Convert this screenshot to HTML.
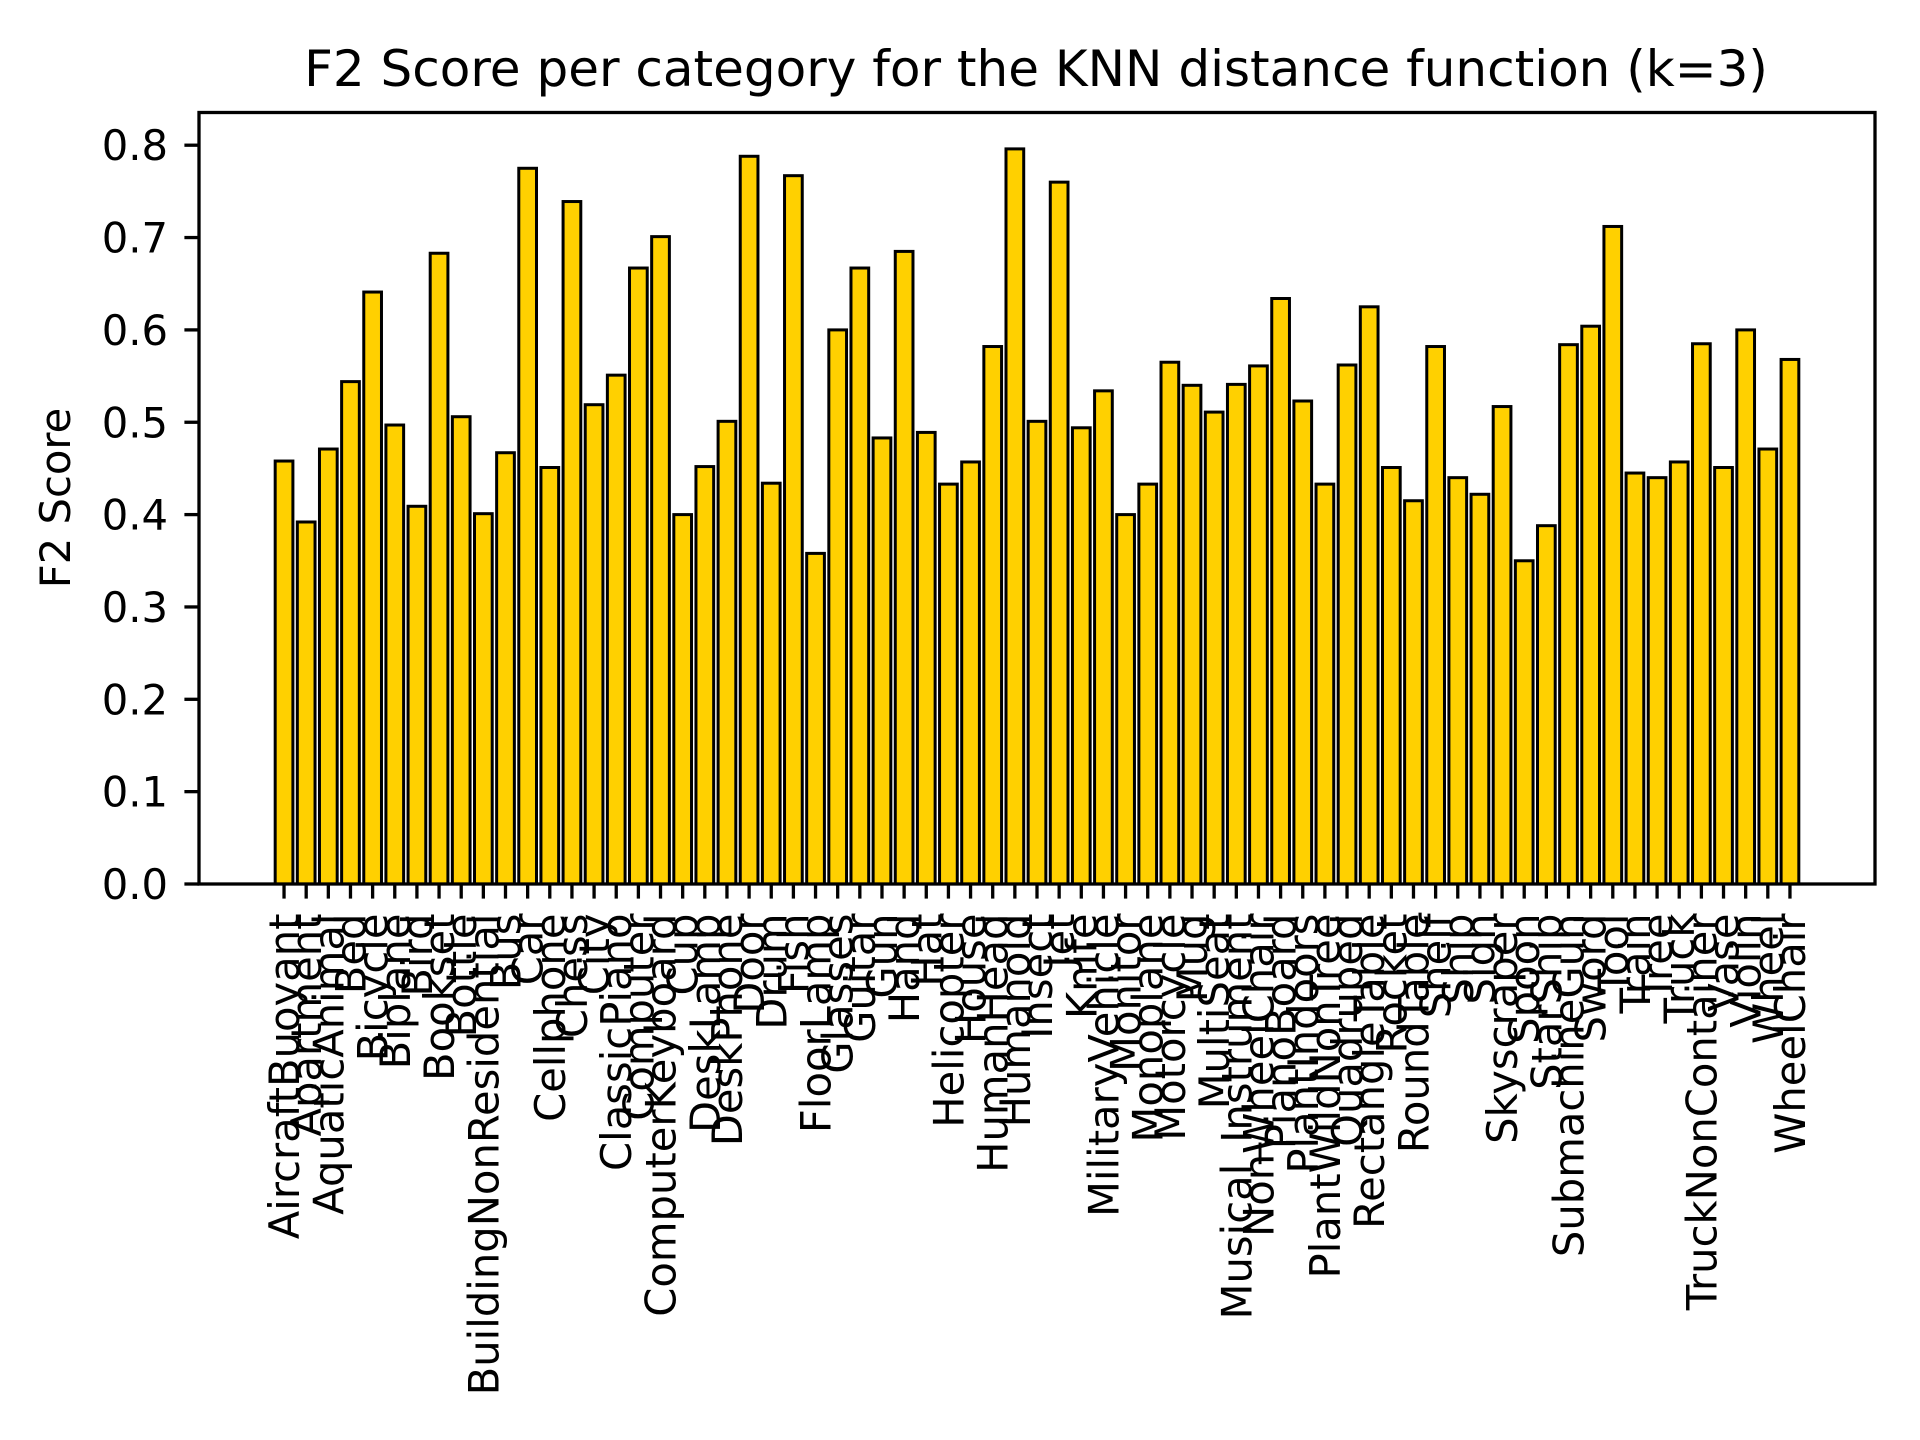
<!DOCTYPE html>
<html><head><meta charset="utf-8">
<style>
html,body{margin:0;padding:0;background:#fff;}
svg{display:block;}
text{font-family:"DejaVu Sans","Liberation Sans",sans-serif;fill:#000;}
</style></head>
<body>
<svg id="chart" width="1920" height="1440" viewBox="0 0 1920 1440" xmlns="http://www.w3.org/2000/svg">
<rect x="0" y="0" width="1920" height="1440" fill="#fff"/>
<text x="1036" y="86" font-size="50" text-anchor="middle">F2 Score per category for the KNN distance function (k=3)</text>
<text transform="translate(70,498) rotate(-90)" font-size="41.7" text-anchor="middle">F2 Score</text>
<g id="bars"></g>
<g id="yticks"></g>
<g id="xticks"></g>
<rect x="199" y="112.5" width="1676" height="771.5" fill="none" stroke="#000" stroke-width="3.3"/>
</svg>
<script>
const categories = ["AircraftBuoyant","Apartment","AquaticAnimal","Bed","Bicycle","Biplane","Bird","Bookset","Bottle","BuildingNonResidential","Bus","Car","Cellphone","Chess","City","ClassicPiano","Computer","ComputerKeyboard","Cup","DeskLamp","DeskPhone","Door","Drum","Fish","FloorLamp","Glasses","Guitar","Gun","Hand","Hat","Helicopter","House","HumanHead","Humanoid","Insect","Jet","Knife","MilitaryVehicle","Monitor","Monoplane","Motorcycle","Mug","MultiSeat","Musical_Instrument","NonWheelChair","PianoBoard","PlantIndoors","PlantWildNonTree","Quadruped","RectangleTable","Rocket","RoundTable","Shelf","Ship","Sign","Skyscraper","Spoon","StarShip","SubmachineGun","Sword","Tool","Train","Tree","Truck","TruckNonContainer","Vase","Violin","Wheel","WheelChair"];
const f2Scores = [0.458,0.392,0.471,0.544,0.641,0.497,0.409,0.683,0.506,0.401,0.467,0.775,0.451,0.739,0.519,0.551,0.667,0.701,0.400,0.452,0.501,0.788,0.434,0.767,0.358,0.600,0.667,0.483,0.685,0.489,0.433,0.457,0.582,0.796,0.501,0.760,0.494,0.534,0.400,0.433,0.565,0.540,0.511,0.541,0.561,0.634,0.523,0.433,0.562,0.625,0.451,0.415,0.582,0.440,0.422,0.517,0.350,0.388,0.584,0.604,0.712,0.445,0.440,0.457,0.585,0.451,0.600,0.471,0.568];
const yTickValues = [0.0,0.1,0.2,0.3,0.4,0.5,0.6,0.7,0.8];
const yTickLabels = ["0.0","0.1","0.2","0.3","0.4","0.5","0.6","0.7","0.8"];

const NS = "http://www.w3.org/2000/svg";
const axL = 199, axR = 1875, axT = 112.5, axB = 884;
const n = categories.length;
const xMin = -0.4 - 0.05*(n - 1 + 0.8), xMax = (n - 1) + 0.4 + 0.05*(n - 1 + 0.8);
function xScale(i){ return axL + (i - xMin) / (xMax - xMin) * (axR - axL); }
const yMax = 0.8 + (axB - axT - 8*92.35) / 923.5 ;
function yScale(v){ return axB - v * 923.5; }
const unit = (axR - axL) / (xMax - xMin);

const gBars = document.getElementById('bars');
const gX = document.getElementById('xticks');
const gY = document.getElementById('yticks');

f2Scores.forEach((v, i) => {
  const cx = xScale(i);
  const r = document.createElementNS(NS, 'rect');
  r.setAttribute('x', cx - 0.4*unit);
  r.setAttribute('y', yScale(v));
  r.setAttribute('width', 0.8*unit);
  r.setAttribute('height', axB - yScale(v));
  r.setAttribute('fill', '#ffd000');
  r.setAttribute('stroke', '#000');
  r.setAttribute('stroke-width', '3');
  
  
  gBars.appendChild(r);
});

categories.forEach((c, i) => {
  const cx = xScale(i);
  const t = document.createElementNS(NS, 'line');
  t.setAttribute('x1', cx); t.setAttribute('x2', cx);
  t.setAttribute('y1', axB); t.setAttribute('y2', axB + 14.6);
  t.setAttribute('stroke', '#000'); t.setAttribute('stroke-width', '3.3');
  
  
  gX.appendChild(t);
  const lb = document.createElementNS(NS, 'text');
  lb.setAttribute('transform', 'translate(' + cx + ',' + (axB + 29.5) + ') rotate(-90)');
  lb.setAttribute('font-size', '41.7');
  lb.setAttribute('text-anchor', 'end');
  lb.setAttribute('dy', '0.36em');
  lb.textContent = c;
  
  
  gX.appendChild(lb);
});

yTickValues.forEach((v, i) => {
  const y = yScale(v);
  const t = document.createElementNS(NS, 'line');
  t.setAttribute('x1', axL - 14.6); t.setAttribute('x2', axL);
  t.setAttribute('y1', y); t.setAttribute('y2', y);
  t.setAttribute('stroke', '#000'); t.setAttribute('stroke-width', '3.3');
  
  
  gY.appendChild(t);
  const lb = document.createElementNS(NS, 'text');
  lb.setAttribute('x', axL - 31);
  lb.setAttribute('y', y + 15);
  lb.setAttribute('font-size', '41.7');
  lb.setAttribute('text-anchor', 'end');
  lb.textContent = yTickLabels[i];
  
  
  gY.appendChild(lb);
});
</script>
</body></html>
